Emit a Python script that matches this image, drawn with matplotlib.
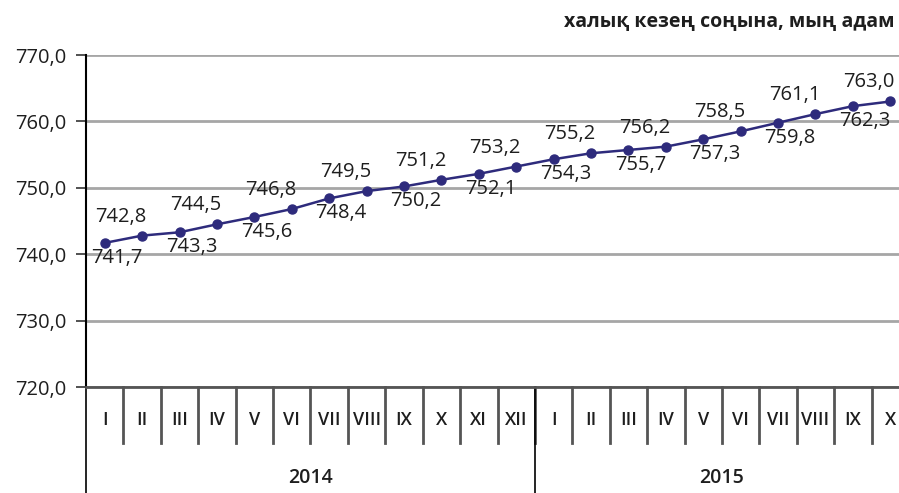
import matplotlib
matplotlib.use('Agg')
import matplotlib.pyplot as plt
import matplotlib.transforms as mtransforms

# population at end of period, thousand people
months = ['I', 'II', 'III', 'IV', 'V', 'VI', 'VII', 'VIII', 'IX', 'X', 'XI', 'XII',
          'I', 'II', 'III', 'IV', 'V', 'VI', 'VII', 'VIII', 'IX', 'X']
values = [741.7, 742.8, 743.3, 744.5, 745.6, 746.8, 748.4, 749.5, 750.2, 751.2, 752.1,
          753.2, 754.3, 755.2, 755.7, 756.2, 757.3, 758.5, 759.8, 761.1, 762.3, 763.0]
years = ['2014', '2015']
year_months = [12, 10]
yticks = [720, 730, 740, 750, 760, 770]

plt.rcParams['font.family'] = ['Open Sans', 'DejaVu Sans']
txt = '#1E1E1E'
navy = '#2E2B7C'

fig = plt.figure(figsize=(8.99, 4.93), dpi=100)
W, H = 899, 493
ax = fig.add_axes([86 / W, 1 - 387 / H, 823 / W, 332 / H])

x = list(range(len(values)))
ax.plot(x, values, color=navy, lw=1.8, marker='o', ms=6.5, zorder=3)

# labels alternate below / above the line
for i, v in enumerate(values):
    s = f'{v:.1f}'.replace('.', ',')
    if i % 2 == 0:
        off = (12, -15)
    else:
        off = (-21, 19)
    ax.annotate(s, (i, v), xytext=off, textcoords='offset pixels',
                ha='center', va='center', fontsize=14.5, color=txt, zorder=4)

ax.set_xlim(-0.5, len(values) - 0.5)
ax.set_ylim(720, 770)
ax.set_yticks(yticks)
ax.set_yticklabels([f'{t:.1f}'.replace('.', ',') for t in yticks], fontsize=14.5,
                   color=txt, fontweight='medium')
ax.set_xticks([])
ax.grid(axis='y', color='#A6A6A6', lw=2)
ax.set_axisbelow(True)
for sp in ['top', 'right']:
    ax.spines[sp].set_visible(False)
ax.spines['bottom'].set_color('#555555')
ax.spines['bottom'].set_linewidth(2)
ax.spines['left'].set_color('black')
ax.spines['left'].set_linewidth(1.5)
ax.tick_params(axis='y', length=7, width=1.2, color='#333333', pad=7)

# category axis with month and year groups
tr = mtransforms.blended_transform_factory(ax.transData, ax.transAxes)
for i, m in enumerate(months):
    ax.text(i, -0.099, m, transform=tr, ha='center', va='center',
            fontsize=13, color=txt, fontweight='semibold')
    if i > 0:
        ax.plot([i - 0.5, i - 0.5], [0, -0.169], transform=tr, color='#555555',
                lw=2, clip_on=False)
start = -0.5
for yr, n in zip(years, year_months):
    ax.text(start + n / 2, -0.274, yr, transform=tr, ha='center', va='center',
            fontsize=14, color=txt, fontweight='semibold')
    ax.plot([start, start], [0, -0.33], transform=tr, color='black', lw=1.2,
            clip_on=False)
    start += n

fig.text(895 / W, 1 - 22 / H, 'халық кезең соңына, мың адам', ha='right', va='center',
         fontsize=14, color=txt, fontweight='bold')

fig.savefig('out.png', dpi=100)
